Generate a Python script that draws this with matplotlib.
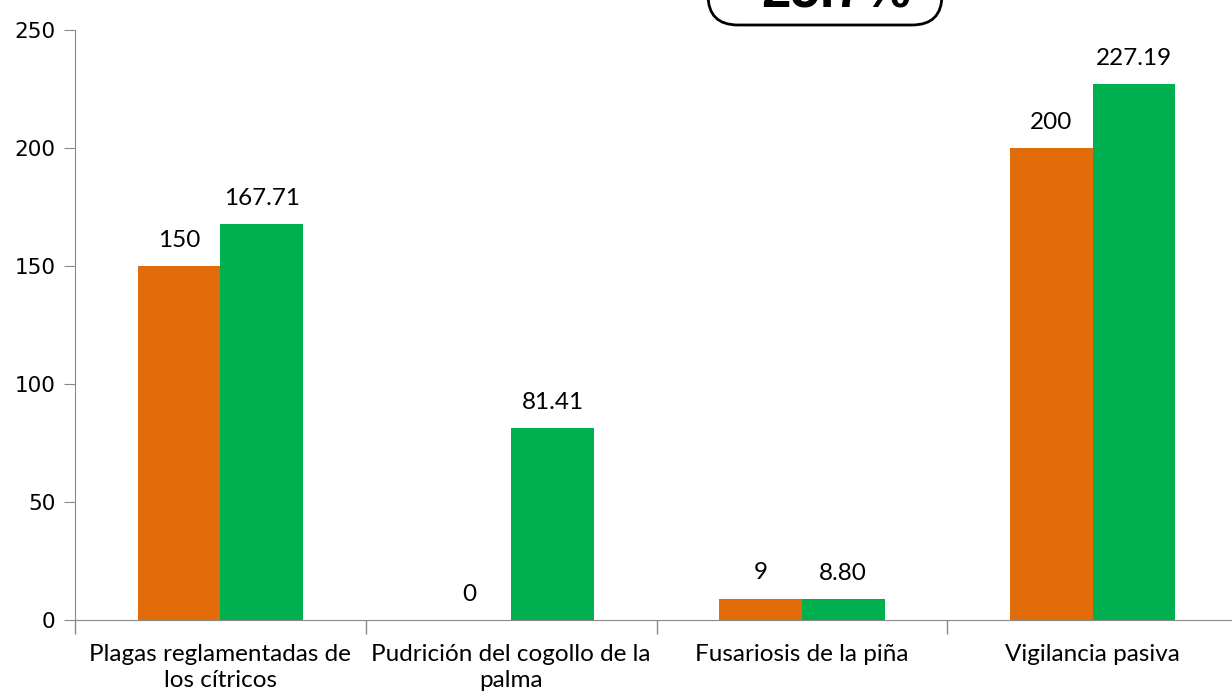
import numpy as np
import matplotlib
matplotlib.use("Agg")
import matplotlib.pyplot as plt
from matplotlib.patches import FancyBboxPatch

categories = ["Plagas reglamentadas de\nlos cítricos", "Pudrición del cogollo de la\npalma",
              "Fusariosis de la piña", "Vigilancia pasiva"]
meta = [150, 0, 9, 200]
logrado = [167.71, 81.41, 8.80, 227.19]
meta_labels = ["150", "0", "9", "200"]
logrado_labels = ["167.71", "81.41", "8.80", "227.19"]
badge = "25.7%"

orange = "#E36C0A"
green = "#00B050"

fig = plt.figure(figsize=(12.32, 6.97), dpi=100)
ax = fig.add_axes([75/1232, 77/697, 1163/1232, 590/697])

x = np.arange(len(categories))
w = 0.285
ax.bar(x - w/2, meta, w, color=orange)
ax.bar(x + w/2, logrado, w, color=green)

for xi, v, s in zip(x, meta, meta_labels):
    ax.annotate(s, (xi - w/2, v), xytext=(0, 11), textcoords="offset points",
                ha="center", va="bottom", fontsize=17.5, family="Lato")
for xi, v, s in zip(x, logrado, logrado_labels):
    ax.annotate(s, (xi + w/2, v), xytext=(0, 11), textcoords="offset points",
                ha="center", va="bottom", fontsize=17.5, family="Lato")

ax.set_xlim(-0.5, len(categories) - 0.5)
ax.set_ylim(0, 250)
ax.set_yticks([0, 50, 100, 150, 200, 250])
ax.set_xticks(x)
ax.set_xticklabels(categories, fontsize=17.5, family="Lato", linespacing=1.3)
ax.set_xticks(np.arange(len(categories) + 1) - 0.5, minor=True)
ax.tick_params(axis="x", which="major", length=0, pad=17)
ax.tick_params(axis="x", which="minor", length=10, color="#888888", width=1)
ax.tick_params(axis="y", length=8, color="#888888", labelsize=15.5, pad=6)
for lab in ax.get_yticklabels():
    lab.set_family("DejaVu Sans")

for s in ["top", "right"]:
    ax.spines[s].set_visible(False)
for s in ["left", "bottom"]:
    ax.spines[s].set_color("#888888")

# rounded badge, cut by the top edge (inches)
box = FancyBboxPatch((7.08, 6.72), 2.34, 1.0,
                     boxstyle="round,pad=0,rounding_size=0.3",
                     transform=fig.dpi_scale_trans, fc="white", ec="black", lw=2,
                     clip_on=False)
fig.patches.append(box)
fig.text(836/1232, 1 - 8/697, badge, ha="center", va="baseline", fontsize=38,
         fontweight="bold", family="Liberation Sans")

fig.savefig("out.png", dpi=100)
